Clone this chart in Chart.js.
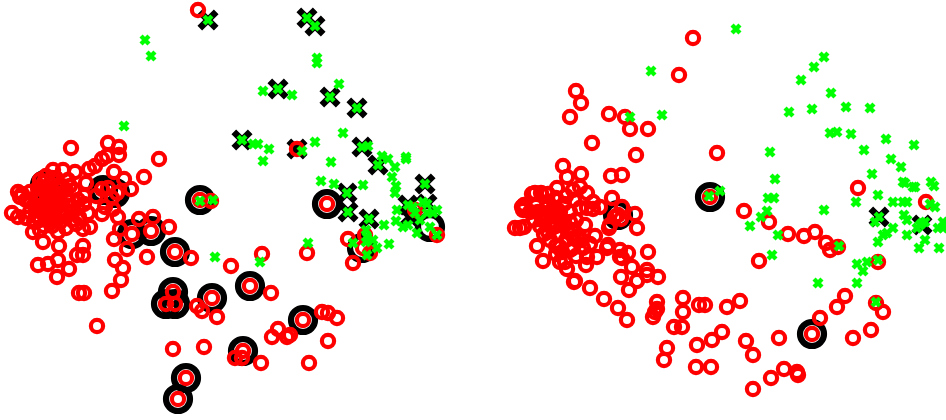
<!DOCTYPE html>
<html>
<head>
<meta charset="utf-8">
<title>SVM scatter</title>
<style>
  html, body { margin: 0; padding: 0; background: #fff; }
  canvas { display: block; }
</style>
<script src="https://cdn.jsdelivr.net/npm/chart.js@4"></script>
</head>
<body>
<canvas id="scatterChart" width="946" height="420"></canvas>
<script>
// values, [x, y]
const leftRed = [
  [198,10],[71,148],[108,143],[119,147],[119,155],[107,156],[102,159],[159,159],[144,177],[114,172],
  [124,179],[131,189],[117,193],[102,189],[95,166],[89,169],[75,172],[63,170],[53,170],[86,183],
  [84,196],[18,192],[20,197],[12,213],[18,217],[26,218],[33,232],[43,242],[40,230],[59,246],
  [83,246],[77,255],[83,255],[58,260],[38,265],[48,264],[69,269],[57,277],[90,227],[83,229],
  [79,217],[88,213],[102,214],[105,207],[113,209],[118,217],[120,229],[114,239],[132,234],[139,219],
  [153,217],[151,231],[169,227],[127,249],[175,252],[191,258],[147,257],[115,260],[123,268],[121,280],
  [112,291],[200,200],[211,201],[231,266],[262,254],[307,253],[353,263],[250,286],[271,293],[173,292],
  [166,304],[175,304],[212,298],[197,306],[202,311],[217,317],[79,293],[84,293],[97,326],[303,320],
  [322,312],[328,313],[337,318],[278,329],[272,337],[287,337],[290,335],[328,341],[309,363],[173,349],
  [204,347],[243,351],[235,358],[242,358],[261,363],[186,378],[178,399],[327,204],[348,239],[365,235],
  [363,248],[370,253],[415,210],[437,235],[297,149],
  // dense clump
  [22,194],[26,200],[30,192],[34,205],[38,188],[42,196],[46,208],[50,184],[54,192],[58,200],
  [62,186],[66,196],[70,206],[74,190],[78,200],[30,212],[36,216],[42,212],[48,220],[54,214],
  [60,222],[66,216],[72,212],[40,180],[46,176],[56,178],[68,180],[36,200],[44,204],[52,204],
  [60,210],[34,222],[44,226],[58,232],[66,228],[76,224],[84,204],[96,196],[108,188],[112,198],
  [38,194],[42,188],[46,192],[50,198],[54,204],[40,208],[44,214],[50,212],[56,208],[62,204],
  [64,214],[68,200],[48,200],[36,208],[52,178],[58,186],[44,182],[48,188],[30,200],[56,220],
  [72,220],[78,208],[70,186],[62,216],[52,226],[40,220],[66,190]
];
const leftGreen = [
  [208,20],[307,18],[315,26],[145,40],[151,56],[317,58],[317,63],[124,126],[278,89],[330,97],
  [357,108],[263,91],[292,95],[339,84],[343,133],[242,140],[315,142],[253,144],[258,144],[269,149],
  [263,161],[302,151],[331,162],[362,147],[368,146],[382,156],[388,159],[395,167],[406,157],[406,159],
  [378,165],[392,177],[396,186],[395,193],[321,181],[334,184],[363,185],[347,193],[348,212],[369,219],
  [425,184],[427,204],[408,205],[397,210],[396,221],[403,227],[384,225],[389,244],[415,213],[423,202],
  [433,213],[430,227],[417,233],[408,225],[437,235],[420,220],[427,213],[413,207],[437,210],[366,230],
  [367,237],[366,242],[373,240],[377,248],[367,255],[353,243],[308,243],[260,262],[200,201],[213,200],
  [215,257]
];
const leftRings = [
  [45,185],[103,190],[115,193],[132,234],[151,231],[175,252],[200,200],[327,204],[362,248],[430,227],
  [250,286],[173,292],[166,304],[175,304],[212,298],[303,320],[243,351],[186,378],[178,399]
];
const leftCrosses = [
  [208,20],[307,18],[315,26],[278,89],[330,97],[357,108],[242,140],[297,149],[362,147],[378,165],
  [347,193],[348,212],[369,219],[425,184],[427,204],[408,205],[410,217]
];

const rightRed = [
  [693,38],[679,75],[576,91],[581,103],[570,117],[609,114],[625,117],[630,129],[648,129],[592,143],
  [636,155],[717,153],[563,166],[567,177],[581,174],[611,176],[622,175],[557,188],[532,194],[535,193],
  [541,193],[573,190],[580,187],[587,193],[593,202],[600,207],[587,208],[593,209],[524,205],[523,210],
  [522,207],[515,228],[520,228],[524,227],[612,198],[618,215],[622,207],[635,214],[615,217],[621,219],
  [637,228],[609,228],[610,225],[648,252],[608,245],[607,248],[620,250],[622,258],[628,253],[620,257],
  [632,267],[647,270],[647,275],[658,277],[621,277],[637,281],[629,290],[657,302],[657,309],[655,312],
  [653,317],[575,281],[574,282],[590,288],[604,299],[618,308],[627,320],[537,246],[543,261],[560,262],
  [565,262],[567,269],[586,265],[587,257],[597,257],[595,236],[585,225],[572,230],[560,247],[573,248],
  [583,248],[683,298],[683,312],[674,327],[682,327],[699,305],[705,305],[727,307],[740,301],[722,332],
  [712,340],[697,345],[667,348],[664,360],[696,367],[711,367],[746,341],[753,355],[779,338],[812,334],
  [820,318],[837,307],[845,296],[876,303],[883,312],[871,330],[853,338],[753,389],[771,378],[784,369],
  [797,372],[798,375],[744,211],[769,222],[788,234],[804,236],[815,232],[826,243],[830,250],[838,247],
  [759,261],[858,188],[926,202],[878,262],[710,197],
  // dense clump
  [530,212],[536,206],[542,214],[548,202],[552,210],[558,218],[564,204],[570,212],[576,220],[534,220],
  [540,226],[546,220],[552,228],[558,234],[564,226],[570,222],[578,236],[544,234],[550,240],[556,246],
  [566,240],[574,238],[590,244],[548,194],[556,198],[566,196],[574,200],[580,208],[546,208],[560,212],
  [538,212],[544,216],[550,222],[556,226],[548,232],[542,220],[552,216],[556,208],[562,220],[568,232],
  [562,252],[576,256],[582,240],[556,254],[570,250]
];
const rightGreen = [
  [736,29],[824,57],[814,67],[801,80],[831,93],[651,71],[662,115],[630,117],[789,112],[812,109],
  [846,107],[870,108],[830,133],[837,132],[851,134],[886,139],[914,145],[864,150],[770,152],[891,159],
  [901,167],[872,174],[775,179],[903,182],[905,183],[915,187],[913,187],[931,182],[934,186],[878,195],
  [768,198],[774,198],[856,202],[893,202],[903,202],[907,202],[824,210],[767,211],[761,217],[750,226],
  [778,235],[839,246],[772,255],[904,215],[907,220],[930,204],[935,207],[879,217],[875,222],[922,223],
  [917,228],[925,222],[920,225],[893,228],[887,233],[883,235],[907,235],[878,242],[938,228],[943,222],
  [943,228],[925,240],[919,248],[939,248],[857,264],[867,262],[863,271],[878,260],[857,283],[818,283],
  [876,302],[720,191],[709,196]
];
const rightRings = [[618,215],[710,197],[812,334]];
const rightCrosses = [[879,217],[922,225]];

const toPoints = arr => arr.map(p => ({ x: p[0], y: p[1] }));

document.addEventListener("DOMContentLoaded", () => {
  const ctx = document.getElementById("scatterChart");

  // first dataset ends up on top, so green goes first and black last
  const marks = (data, style) => Object.assign({
    data: toPoints(data),
    showLine: false,
    backgroundColor: "transparent",
    pointHoverRadius: 0
  }, style);

  const green = { pointStyle: "crossRot", pointRadius: 5.6, pointBorderWidth: 4.4, pointBorderColor: "#00ff00" };
  const red = { pointStyle: "circle", pointRadius: 6.1, pointBorderWidth: 4.2, pointBorderColor: "#ff0000" };
  const ring = { pointStyle: "circle", pointRadius: 12, pointBorderWidth: 6.2, pointBorderColor: "#000000" };
  const cross = { pointStyle: "crossRot", pointRadius: 11.6, pointBorderWidth: 6.6, pointBorderColor: "#000000" };

  new Chart(ctx, {
    type: "scatter",
    data: {
      datasets: [
        marks(leftGreen, green),
        marks(rightGreen, green),
        marks(leftRed, red),
        marks(rightRed, red),
        marks(leftCrosses, cross),
        marks(rightCrosses, cross),
        marks(leftRings, ring),
        marks(rightRings, ring)
      ]
    },
    options: {
      responsive: false,
      animation: false,
      // no extra room around the points, the plot fills the canvas
      layout: { padding: 0, autoPadding: false },
      plugins: { legend: { display: false }, tooltip: { enabled: false } },
      scales: {
        x: { display: false, min: 0, max: 946 },
        y: { display: false, min: 0, max: 420, reverse: true }
      }
    }
  });
});
</script>
</body>
</html>
